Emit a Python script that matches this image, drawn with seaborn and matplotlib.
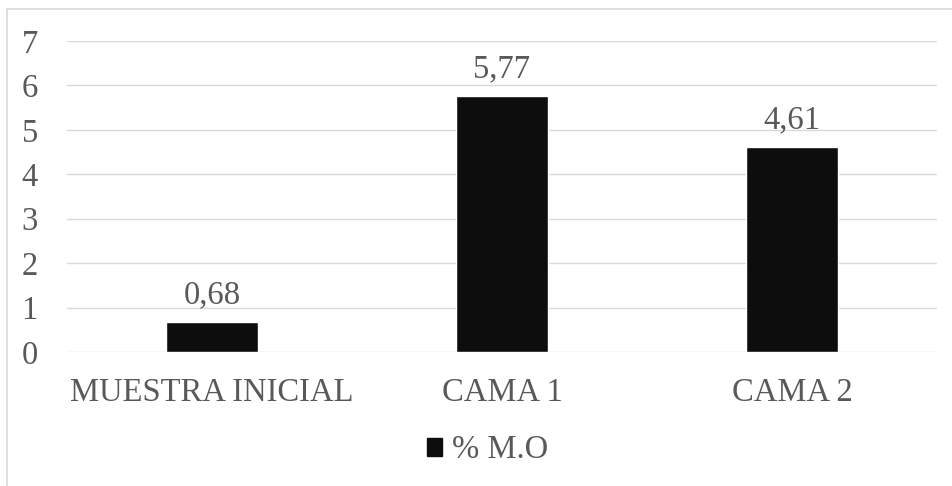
import matplotlib
matplotlib.use("Agg")
import matplotlib.pyplot as plt
import seaborn as sns
import pandas as pd
from matplotlib.lines import Line2D
from matplotlib.patches import Patch

categories = ["MUESTRA INICIAL", "CAMA 1", "CAMA 2"]
values = [0.68, 5.77, 4.61]
series_name = "% M.O"
y_ticks = [0, 1, 2, 3, 4, 5, 6, 7]

sns.set_theme(style="white")
plt.rcParams["font.family"] = ["Liberation Serif", "DejaVu Serif"]

text_color = "#595959"
grid_color = "#d9d9d9"
bar_color = "#0d0d0d"
fs = 23.5

df = pd.DataFrame({"categoria": categories, "valor": values})

fig = plt.figure(figsize=(9.52, 4.86), dpi=100)
ax = fig.add_axes([67 / 952, 1 - 352 / 486, 870 / 952, 311 / 486])

sns.barplot(data=df, x="categoria", y="valor", color=bar_color, width=0.314,
            saturation=1, ax=ax, zorder=3)

ax.set_ylim(0, 7)
ax.set_yticks(y_ticks)
ax.set_yticklabels([str(t) for t in y_ticks])
ax.set_xlim(-0.5, 2.5)
ax.set_xlabel("")
ax.set_ylabel("")

for y in y_ticks:
    ax.axhline(y, color=grid_color, lw=1.0, zorder=1)

for s in ax.spines.values():
    s.set_visible(False)

ax.tick_params(axis="y", length=0, pad=21, labelsize=fs, labelcolor=text_color)
ax.tick_params(axis="x", length=0, pad=18, labelsize=fs, labelcolor=text_color)

labels = [f"{v:.2f}".replace(".", ",") for v in values]
ax.bar_label(ax.containers[0], labels=labels, padding=8.5, fontsize=fs,
             color=text_color)

handle = Patch(facecolor=bar_color, edgecolor=bar_color)
fig.legend([handle], [series_name], loc="center", bbox_to_anchor=(0.512, 1 - 450 / 486),
           frameon=False, fontsize=fs, labelcolor=text_color, handlelength=0.47,
           handleheight=0.47, handletextpad=0.3)

# outer chart-area frame (top and left edges)
fig.add_artist(Line2D([6.5 / 952, 1.0], [1 - 9.5 / 486, 1 - 9.5 / 486],
                      transform=fig.transFigure, color=grid_color, lw=1.2))
fig.add_artist(Line2D([6.5 / 952, 6.5 / 952], [0.0, 1 - 9.5 / 486],
                      transform=fig.transFigure, color=grid_color, lw=1.2))

fig.savefig("out.png", dpi=100)
